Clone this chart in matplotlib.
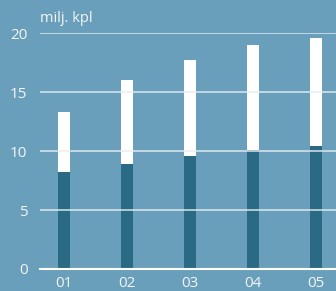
import matplotlib
matplotlib.use("Agg")
import matplotlib.pyplot as plt

categories = ["01", "02", "03", "04", "05"]
dark_values = [8.2, 8.9, 9.6, 10.1, 10.4]
total_values = [13.3, 16.0, 17.7, 19.0, 19.6]
yticks = [0, 5, 10, 15, 20]

bg = "#699fba"
dark = "#2a6a85"
txt = "#f2f6f8"

plt.rcParams['font.family'] = ['Open Sans', 'DejaVu Sans']

fig = plt.figure(figsize=(3.36, 2.91), dpi=100, facecolor=bg)
ax = fig.add_axes([40/336, (291-269)/291, (336-40)/336, (269-33.3)/291], facecolor=bg)

x = list(range(len(categories)))
upper = [t - d for t, d in zip(total_values, dark_values)]
ax.bar(x, dark_values, width=12/63, color=dark, zorder=2)
ax.bar(x, upper, bottom=dark_values, width=12/63, color="white", zorder=2)

for y in yticks:
    if y == 0:
        ax.axhline(y, color="white", lw=1.5, zorder=3, clip_on=False)
    else:
        ax.axhline(y, color="#e6eef2", lw=1.2, alpha=0.85, zorder=3)

ax.set_xlim(-24/63, 4 + 20/63)
ax.set_ylim(0, 20)
ax.set_yticks(yticks)
ax.set_xticks(x)
ax.set_xticklabels(categories)
ax.tick_params(axis='both', length=0, colors=txt, labelsize=11)
ax.tick_params(axis='y', pad=9)
ax.tick_params(axis='x', pad=5)
for s in ax.spines.values():
    s.set_visible(False)

fig.text(40/336, 1 - 18/291, "milj. kpl", color=txt, fontsize=10.5, va="center", ha="left")

fig.savefig("out.png", dpi=100, facecolor=bg)
